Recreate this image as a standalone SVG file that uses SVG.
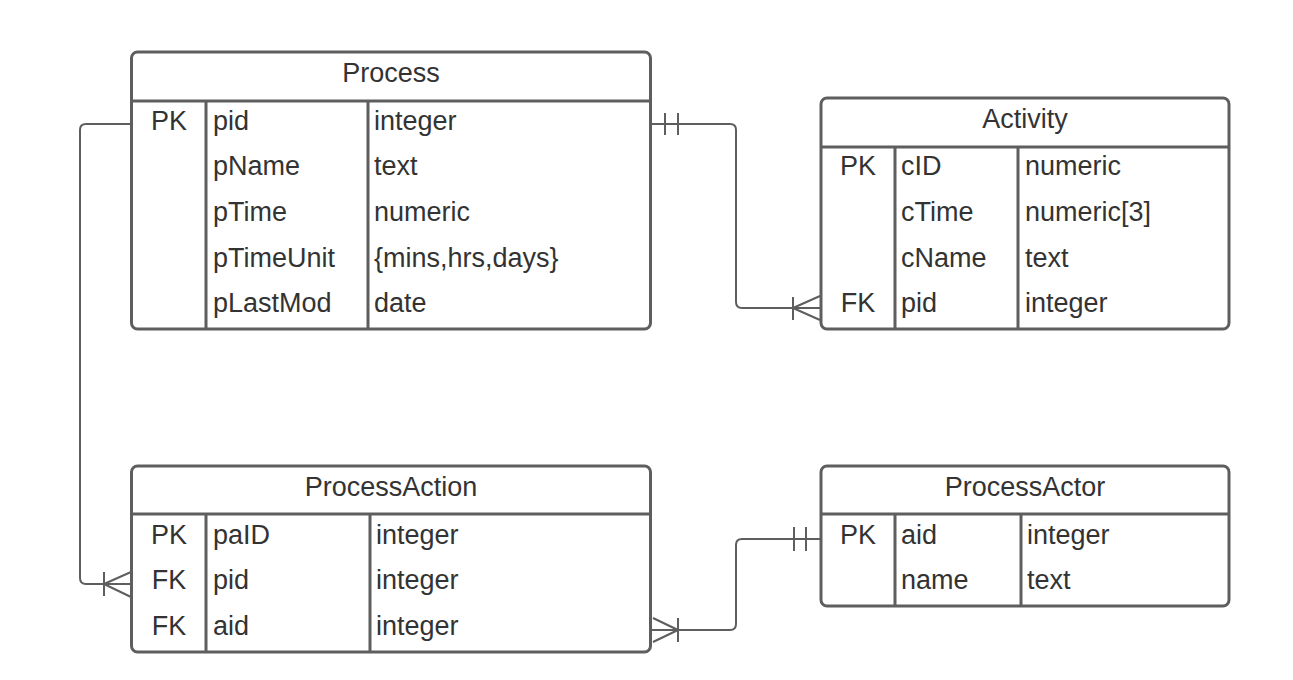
<svg xmlns="http://www.w3.org/2000/svg" width="1293" height="680" viewBox="0 0 1293 680">
  <style>
    .box { fill: #ffffff; stroke: #5e5e5e; stroke-width: 3; }
    .div { stroke: #5e5e5e; stroke-width: 3; fill: none; }
    .conn { stroke: #5e5e5e; stroke-width: 2; fill: none; }
    text { font-family: "Liberation Sans", Arial, sans-serif; font-size: 27px; fill: #333333; }
    .title { text-anchor: middle; }
    .key { text-anchor: middle; }
  </style>
  <rect x="0" y="0" width="1293" height="680" fill="#ffffff"/>

  <!-- relationships -->
  <g id="connectors">
    <!-- Process.pid 1 — N Activity.pid -->
    <path class="conn" d="M651,124 H730 Q736,124 736,130 V302 Q736,308 742,308 H820"/>
    <path class="conn" d="M665,113 V135 M678,113 V135"/>
    <path class="conn" d="M793,297 V320 M793,308 L820,296 M793,308 L820,320"/>

    <!-- Process.pid 1 — N ProcessAction.pid -->
    <path class="conn" d="M131,124 H86 Q80,124 80,130 V578 Q80,584 86,584 H131"/>
    <path class="conn" d="M104,572 V596 M104,584 L131,572 M104,584 L131,597"/>

    <!-- ProcessActor.aid 1 — N ProcessAction.aid -->
    <path class="conn" d="M651,630 H730 Q736,630 736,624 V545 Q736,539 742,539 H820"/>
    <path class="conn" d="M678,618 V642 M678,630 L653,618 M678,630 L653,642"/>
    <path class="conn" d="M794,527 V551 M806,527 V551"/>
  </g>

  <g id="process">
    <rect class="box" x="131.5" y="52" width="519" height="277" rx="6"/>
    <path class="div" d="M131.5,101 H650.5 M206,101 V329 M368,101 V329"/>
    <text class="title" x="391" y="82">Process</text>
    <text class="key" x="169" y="130">PK</text>
    <text x="213" y="130">pid</text>
    <text x="374" y="130">integer</text>
    <text x="213" y="175">pName</text>
    <text x="374" y="175">text</text>
    <text x="213" y="221">pTime</text>
    <text x="374" y="221">numeric</text>
    <text x="213" y="267">pTimeUnit</text>
    <text x="374" y="267">{mins,hrs,days}</text>
    <text x="213" y="312">pLastMod</text>
    <text x="374" y="312">date</text>
  </g>

  <g id="activity">
    <rect class="box" x="821" y="98" width="408" height="231" rx="6"/>
    <path class="div" d="M821,147 H1229 M895,147 V329 M1018,147 V329"/>
    <text class="title" x="1025" y="128">Activity</text>
    <text class="key" x="858" y="175">PK</text>
    <text x="901" y="175">cID</text>
    <text x="1025" y="175">numeric</text>
    <text x="901" y="221">cTime</text>
    <text x="1025" y="221">numeric[3]</text>
    <text x="901" y="267">cName</text>
    <text x="1025" y="267">text</text>
    <text class="key" x="858" y="312">FK</text>
    <text x="901" y="312">pid</text>
    <text x="1025" y="312">integer</text>
  </g>

  <g id="process-action">
    <rect class="box" x="131.5" y="466" width="519" height="186" rx="6"/>
    <path class="div" d="M131.5,514 H650.5 M206,514 V652 M370,514 V652"/>
    <text class="title" x="391" y="496">ProcessAction</text>
    <text class="key" x="169" y="544">PK</text>
    <text x="213" y="544">paID</text>
    <text x="376" y="544">integer</text>
    <text class="key" x="169" y="589">FK</text>
    <text x="213" y="589">pid</text>
    <text x="376" y="589">integer</text>
    <text class="key" x="169" y="635">FK</text>
    <text x="213" y="635">aid</text>
    <text x="376" y="635">integer</text>
  </g>

  <g id="process-actor">
    <rect class="box" x="821" y="466" width="408" height="140" rx="6"/>
    <path class="div" d="M821,514 H1229 M895,514 V606 M1021,514 V606"/>
    <text class="title" x="1025" y="496">ProcessActor</text>
    <text class="key" x="858" y="544">PK</text>
    <text x="901" y="544">aid</text>
    <text x="1027" y="544">integer</text>
    <text x="901" y="589">name</text>
    <text x="1027" y="589">text</text>
  </g>
</svg>
